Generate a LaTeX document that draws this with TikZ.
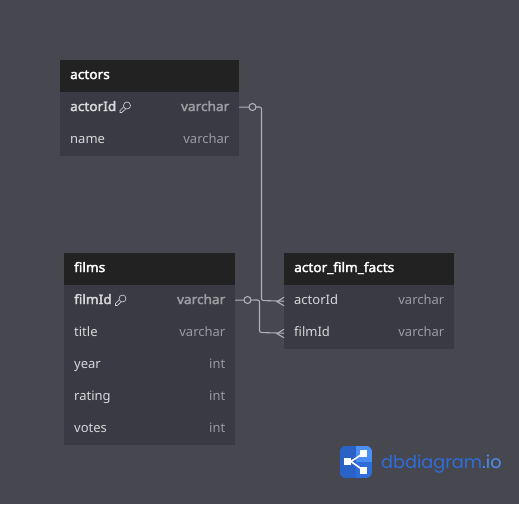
\documentclass[tikz,border=0pt]{standalone}
\usepackage{fontspec}
\setmainfont{Noto Sans}
\newfontfamily\logofont{Poppins}
\newfontfamily\boldfont[FakeBold=2.6,FakeStretch=1.05]{Noto Sans}
\usetikzlibrary{calc}
\definecolor{bgc}{HTML}{46474F}
\definecolor{headc}{HTML}{222222}
\definecolor{rowc}{HTML}{393A43}
\definecolor{linec}{HTML}{B0B0B6}
\definecolor{namec}{HTML}{D8D8DA}
\definecolor{typec}{HTML}{9B9BA0}
\definecolor{logoa}{HTML}{2F6DDB}
\definecolor{logob}{HTML}{2A62C8}
\definecolor{logoc}{HTML}{4C8FF2}
\tikzset{
  x=1pt,y=-1pt,
  head/.style={fill=headc,draw=none,inner sep=0pt,minimum height=32pt,anchor=north west},
  row/.style={fill=rowc,draw=none,inner sep=0pt,minimum height=32pt,anchor=north west},
  tname/.style={font=\boldfont\fontsize{13}{13}\selectfont,text=white,anchor=base west,inner sep=0pt},
  fname/.style={font=\fontsize{13}{13}\selectfont,text=namec,anchor=base west,inner sep=0pt},
  pkname/.style={fname,font=\boldfont\fontsize{13}{13}\selectfont},
  ftype/.style={font=\fontsize{13}{13}\selectfont,text=typec,anchor=base east,inner sep=0pt},
  pktype/.style={ftype,font=\boldfont\fontsize{13}{13}\selectfont},
  conn/.style={draw=linec,line width=1.1pt,rounded corners=2pt},
  ocirc/.style={circle,draw=linec,line width=1.1pt,fill=bgc,minimum size=7pt,inner sep=0pt},
  keyic/.pic={\draw[namec,line width=.6pt,line join=round] (-1,3) -- (-5.2,7) -- (-7,7) -- (-7,5) -- (-3,1);
    \draw[namec,line width=.6pt,fill=rowc] (0,0) circle (3.5);}
}
\begin{document}
\begin{tikzpicture}
\fill[bgc] (0,0) rectangle (519,504);
\useasboundingbox (0,0) rectangle (519,504);
% actors
\node[head,minimum width=179pt] (ah) at (60,60) {};
\node[row,minimum width=179pt] (a1) at (60,92) {};
\node[row,minimum width=179pt] (a2) at (60,124) {};
\node[tname] (ahn) at (70,79) {actors};
\node[pkname] (a1n) at (70,111) {actorId};
\pic at (127,105.5) {keyic};
\node[pktype] (a1t) at (229.5,111) {varchar};
\node[fname] (a2n) at (70,143) {name};
\node[ftype] (a2t) at (229.5,143) {varchar};
% films
\node[head,minimum width=171pt] (fh) at (64,253) {};
\node[row,minimum width=171pt] (f1) at (64,285) {};
\node[row,minimum width=171pt] (f2) at (64,317) {};
\node[row,minimum width=171pt] (f3) at (64,349) {};
\node[row,minimum width=171pt] (f4) at (64,381) {};
\node[row,minimum width=171pt] (f5) at (64,413) {};
\node[tname] (fhn) at (74,272) {films};
\node[pkname] (f1n) at (74,304) {filmId};
\pic at (122.5,298.5) {keyic};
\node[pktype] (f1t) at (225.5,304) {varchar};
\node[fname] (f2n) at (74,336) {title};
\node[ftype] (f2t) at (225.5,336) {varchar};
\node[fname] (f3n) at (74,368) {year};
\node[ftype] (f3t) at (225.5,368) {int};
\node[fname] (f4n) at (74,400) {rating};
\node[ftype] (f4t) at (225.5,400) {int};
\node[fname] (f5n) at (74,432) {votes};
\node[ftype] (f5t) at (225.5,432) {int};
% facts
\node[head,minimum width=170pt] (xh) at (284,253) {};
\node[row,minimum width=170pt] (x1) at (284,285) {};
\node[row,minimum width=170pt] (x2) at (284,317) {};
\node[tname] (xhn) at (294,272) {actor\_film\_facts};
\node[fname] (x1n) at (294,304) {actorId};
\node[ftype] (x1t) at (444.5,304) {varchar};
\node[fname] (x2n) at (294,336) {filmId};
\node[ftype] (x2t) at (444.5,336) {varchar};
% connectors
\coordinate (ac) at (252.5,107);
\coordinate (fc) at (247.5,300);
\draw[conn] ($(a1.east)+(0,-1)$) -- (261.5,107) -- (261.5,300.5) -- (x1.west);
\draw[conn] ($(f1.east)+(0,-1)$) -- (259.5,300) -- (259.5,332.5) -- (x2.west);
\node[ocirc] (ao) at (ac) {};
\node[ocirc] (fo) at (fc) {};
\foreach \r in {x1,x2}{
  \draw[linec,line width=1.1pt] ($(\r.west)+(-7,0.5)$) -- ($(\r.west)+(0,-4)$);
  \draw[linec,line width=1.1pt] ($(\r.west)+(-7,0.5)$) -- ($(\r.west)+(0,4.5)$);
}
% logo
\begin{scope}
\clip[rounded corners=6pt] (340,446) rectangle (372,478);
\fill[logoa] (340,446) rectangle (372,478);
\fill[logob] (340,446) rectangle (356,478);
\fill[logoc] (356,446) rectangle (372,462);
\end{scope}
\draw[white,line width=1.6pt] (351,461.5) -- (363,453.5);
\draw[white,line width=1.6pt] (351,461.5) -- (363,470);
\fill[white] (344,458) rectangle (351,465);
\fill[white] (360,449.5) rectangle (367,456.5);
\fill[white] (360,467) rectangle (367,474);
\node[anchor=base west,inner sep=0pt,font=\logofont\fontsize{17.7}{18}\selectfont] (logo) at (381,468.5) {\textcolor{logoa}{dbdiagram}\textcolor{logoc}{.io}};
\end{tikzpicture}
\end{document}
